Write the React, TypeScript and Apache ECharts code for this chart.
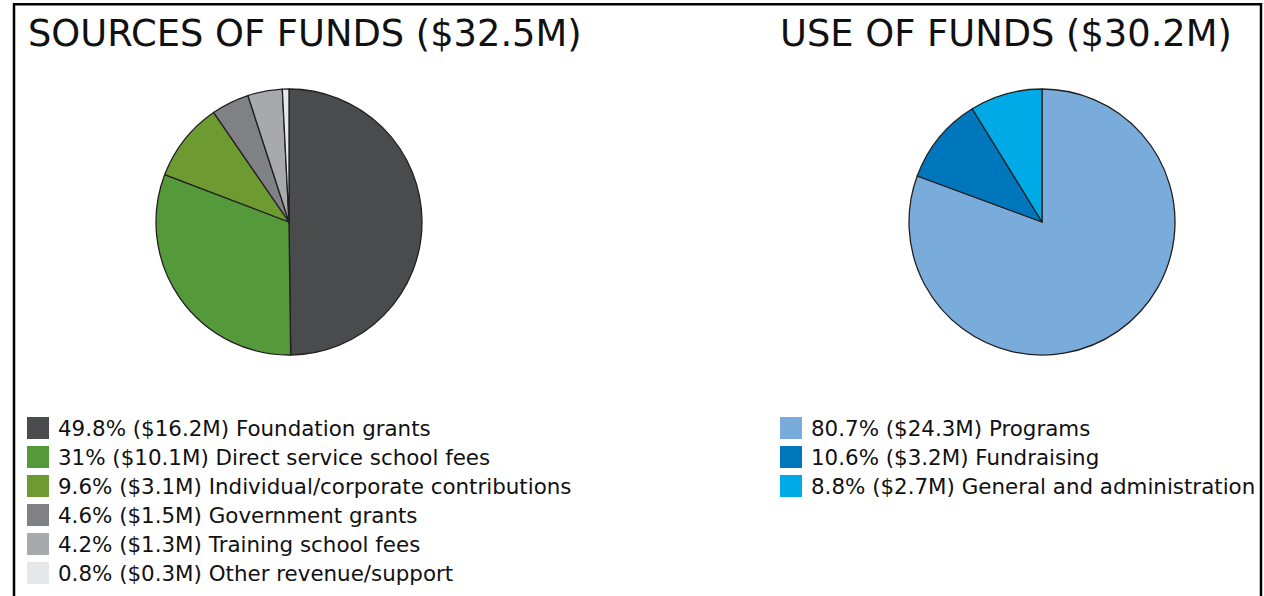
import React, { useEffect, useRef } from "react";
import * as echarts from "echarts";

const sourceTitle = "SOURCES OF FUNDS ($32.5M)";
const useTitle = "USE OF FUNDS ($30.2M)";

const sourceNames = [
  "Foundation grants",
  "Direct service school fees",
  "Individual/corporate contributions",
  "Government grants",
  "Training school fees",
  "Other revenue/support",
];
const sourcePct = [49.8, 31, 9.6, 4.6, 4.2, 0.8];
const sourceAmt = ["16.2", "10.1", "3.1", "1.5", "1.3", "0.3"];
const sourceColors = ["#4a4b4d", "#559a3a", "#6e9a32", "#808184", "#a7a9ac", "#e6e7e8"];

const useNames = ["Programs", "Fundraising", "General and administration"];
const usePct = [80.7, 10.6, 8.8];
const useAmt = ["24.3", "3.2", "2.7"];
const useColors = ["#7aacdb", "#0077bc", "#00aae7"];

const FONT = "DejaVu Sans";

export default function App() {
  const ref = useRef<HTMLDivElement>(null);
  useEffect(() => {
    if (!ref.current) return;
    const chart = echarts.init(ref.current, null, { renderer: "svg" });
    const labelMap: Record<string, string> = {};
    sourceNames.forEach((n, i) => {
      labelMap[n] = `${sourcePct[i]}% ($${sourceAmt[i]}M) ${n}`;
    });
    useNames.forEach((n, i) => {
      labelMap[n] = `${usePct[i]}% ($${useAmt[i]}M) ${n}`;
    });
    const legendCommon = {
      orient: "vertical" as const,
      icon: "rect",
      itemWidth: 22,
      itemHeight: 22,
      itemGap: 7,
      selectedMode: false,
      formatter: (name: string) => labelMap[name] || name,
      textStyle: {
        fontFamily: FONT,
        fontSize: 21.4,
        color: "#111",
        padding: [0, 0, 0, 4],
      },
      itemStyle: { borderWidth: 0 },
    };
    const titleStyle = { fontFamily: FONT, fontSize: 36.8, fontWeight: "normal", color: "#111" };
    chart.setOption({
      animation: false,
      backgroundColor: "#ffffff",
      title: [
        { text: sourceTitle, left: 28, top: 15, padding: 0, textStyle: titleStyle },
        { text: useTitle, left: 780, top: 15, padding: 0, textStyle: titleStyle },
      ],
      legend: [
        { ...legendCommon, data: sourceNames, left: 27, top: 417, padding: 0 },
        { ...legendCommon, data: useNames, left: 780, top: 417, padding: 0 },
      ],
      graphic: [
        {
          type: "rect",
          shape: { x: 14, y: 4.3, width: 1247, height: 640 },
          style: { fill: "none", stroke: "#000", lineWidth: 2.5 },
          silent: true,
        },
      ],
      series: [
        {
          type: "pie",
          center: [289, 222],
          radius: 133,
          startAngle: 90,
          clockwise: true,
          silent: true,
          label: { show: false },
          labelLine: { show: false },
          emphasis: { disabled: true },
          itemStyle: { borderColor: "#231f20", borderWidth: 1.3 },
          data: sourceNames.map((n, i) => ({
            name: n,
            value: sourcePct[i],
            itemStyle: { color: sourceColors[i] },
          })),
        },
        {
          type: "pie",
          center: [1042, 222],
          radius: 133,
          startAngle: 90,
          clockwise: true,
          silent: true,
          label: { show: false },
          labelLine: { show: false },
          emphasis: { disabled: true },
          itemStyle: { borderColor: "#231f20", borderWidth: 1.3 },
          data: useNames.map((n, i) => ({
            name: n,
            value: usePct[i],
            itemStyle: { color: useColors[i] },
          })),
        },
      ],
    });
    return () => chart.dispose();
  }, []);
  return (
    <div
      ref={ref}
      style={{ position: "absolute", left: 0, top: 0, width: 1264, height: 596 }}
    />
  );
}
